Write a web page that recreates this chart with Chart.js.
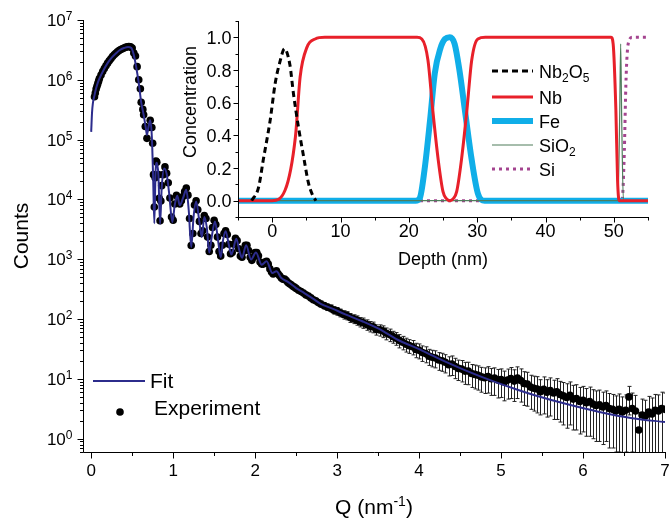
<!DOCTYPE html>
<html>
<head>
<meta charset="utf-8">
<script src="https://cdn.jsdelivr.net/npm/chart.js@4"></script>
<style>
  html, body { margin: 0; padding: 0; background: #fff; }
  #wrap { position: relative; width: 670px; height: 521px; }
  #wrap canvas { position: absolute; left: 0; top: 0; }
  #insetChart { pointer-events: none; }
</style>
</head>
<body>
<div id="wrap">
  <canvas id="mainChart" width="670" height="521"></canvas>
  <canvas id="insetChart" width="670" height="521"></canvas>
</div>
<script>
// ---- main plot: reflectivity fit (Q in nm^-1, counts) ----
const fitQ = [
  0, 0.01, 0.02, 0.04, 0.06, 0.08, 0.10, 0.15, 0.20, 0.25,
  0.30, 0.35, 0.40, 0.45, 0.49, 0.52, 0.55, 0.58, 0.61, 0.64,
  0.665, 0.68, 0.70, 0.72, 0.74, 0.755, 0.77, 0.785, 0.80, 0.82,
  0.84, 0.86, 0.89, 0.92, 0.95, 0.99, 1.02, 1.05, 1.08, 1.12,
  1.16, 1.19, 1.22, 1.25, 1.28, 1.32, 1.35, 1.38, 1.41, 1.44,
  1.47, 1.51, 1.55, 1.58, 1.61, 1.64, 1.68, 1.71, 1.73, 1.77,
  1.81, 1.84, 1.89, 1.95, 2.01, 2.08, 2.14, 2.21, 2.26, 2.32,
  2.40, 2.50, 2.60, 2.70, 2.80, 2.95, 3.10, 3.30, 3.50, 3.77,
  4.00, 4.15, 4.30, 4.55, 4.90, 5.20, 5.40, 5.80, 6.20, 6.60,
  7.00
];
const fitCounts = [
  1.35e5, 2.8e5, 4.0e5, 5.5e5, 7.2e5, 8.9e5, 1.05e6, 1.45e6, 1.9e6, 2.35e6,
  2.75e6, 3.15e6, 3.4e6, 3.55e6, 3.4e6, 2.6e6, 1.6e6, 8.9e5, 4.2e5, 2.6e5,
  1.6e5, 1.2e5, 1.66e5, 2.1e5, 1.1e5, 2.5e4, 4.0e3, 2.8e4, 4.1e4, 2.5e4,
  3.9e3, 1.55e4, 3.3e4, 2.7e4, 1.3e4, 4.2e3, 8.2e3, 1.15e4, 8.0e3, 1.05e4,
  1.45e4, 6.6e3, 1.6e3, 5.3e3, 9.2e3, 4.2e3, 2.35e3, 5.1e3, 3.4e3, 1.3e3,
  2.35e3, 4.3e3, 1.95e3, 1.08e3, 2.15e3, 2.95e3, 1.72e3, 1.2e3, 1.4e3, 2.2e3,
  1.36e3, 1.06e3, 1.72e3, 990, 1300, 810, 930, 590, 630, 485,
  420, 330, 272, 222, 180, 148, 120, 93, 70, 43,
  31.5, 25, 20, 14.2, 9.2, 6.6, 5.4, 3.8, 2.8, 2.2,
  1.9
];

// measured points where the error bars are hidden by the markers
const expQ = [
  0.04, 0.05, 0.06, 0.07, 0.08, 0.09, 0.10, 0.12, 0.14, 0.16,
  0.18, 0.20, 0.22, 0.24, 0.26, 0.28, 0.30, 0.32, 0.34, 0.36,
  0.38, 0.40, 0.42, 0.44, 0.46, 0.48, 0.50, 0.52, 0.54, 0.56,
  0.58, 0.60, 0.61, 0.63, 0.64, 0.66, 0.68, 0.70, 0.72, 0.74,
  0.75, 0.76, 0.77, 0.78, 0.79, 0.80, 0.82, 0.83, 0.84, 0.85,
  0.86, 0.88, 0.90, 0.92, 0.94, 0.96, 0.98, 1.00, 1.02, 1.04,
  1.06, 1.08, 1.10, 1.12, 1.14, 1.16, 1.18, 1.20, 1.22, 1.24,
  1.26, 1.28, 1.30, 1.32, 1.34, 1.36, 1.38, 1.40, 1.42, 1.44,
  1.46, 1.48, 1.50, 1.52, 1.54, 1.56, 1.58, 1.60, 1.62, 1.64,
  1.66, 1.68, 1.70, 1.72, 1.74, 1.76, 1.78, 1.80, 1.82, 1.84,
  1.86, 1.88, 1.90, 1.92, 1.94, 1.96, 1.98, 2.00, 2.02, 2.04,
  2.06, 2.08, 2.10, 2.12, 2.14, 2.16, 2.18, 2.20, 2.22, 2.24,
  2.26, 2.28, 2.30, 2.32, 2.34, 2.36, 2.38, 2.40, 2.42, 2.44,
  2.46, 2.48, 2.50, 2.53, 2.56, 2.59, 2.62, 2.65, 2.68, 2.71,
  2.74, 2.77
];
const expCounts = [
  5.2e5, 6.0e5, 7.0e5, 7.8e5, 8.6e5, 9.5e5, 1.05e6, 1.2e6, 1.38e6, 1.55e6,
  1.72e6, 1.9e6, 2.08e6, 2.25e6, 2.45e6, 2.62e6, 2.78e6, 2.95e6, 3.08e6, 3.2e6,
  3.3e6, 3.4e6, 3.5e6, 3.56e6, 3.6e6, 3.55e6, 3.4e6, 2.8e6, 2.5e6, 1.66e6,
  1.0e6, 7.1e5, 4.2e5, 3.2e5, 2.6e5, 1.66e5, 1.05e5, 1.6e5, 2.1e5, 1.6e5,
  8.7e4, 2.6e4, 7.5e3, 2.3e4, 4.4e4, 4.2e4, 2.6e4, 1.05e4, 4.4e3, 9.4e3,
  1.7e4, 2.6e4, 3.5e4, 2.75e4, 1.9e4, 1.06e4, 5.1e3, 4.5e3, 8.4e3, 1.17e4,
  1.07e4, 8.4e3, 9.5e3, 1.12e4, 1.35e4, 1.55e4, 1.18e4, 4.8e3, 1.7e3, 2.7e3,
  8.1e3, 9.5e3, 6.7e3, 4.3e3, 2.7e3, 3.0e3, 5.4e3, 4.8e3, 2.35e3, 1.35e3,
  1.72e3, 3.4e3, 4.5e3, 3.8e3, 2.35e3, 1.35e3, 1.13e3, 1.72e3, 2.7e3, 3.0e3,
  2.6e3, 1.78e3, 1.24e3, 1.3e3, 1.78e3, 2.25e3, 2.05e3, 1.5e3, 1.13e3, 1.08e3,
  1360, 1720, 1720, 1400, 1080, 960, 1080, 1300, 1300, 1140,
  900, 830, 830, 900, 925, 830, 690, 615, 570, 600,
  640, 570, 530, 485, 465, 465, 440, 410, 390, 375,
  355, 342, 326, 304, 290, 272, 254, 243, 226, 211,
  202, 189
];

// high-Q tail with visible error bars (absolute counts)
const tailQ = [
  2.80, 2.84, 2.88, 2.92, 2.96, 3.00, 3.04, 3.08, 3.12, 3.16,
  3.20, 3.24, 3.28, 3.32, 3.36, 3.40, 3.44, 3.48, 3.52, 3.56,
  3.60, 3.64, 3.68, 3.72, 3.76, 3.80, 3.84, 3.88, 3.92, 3.96,
  4.00, 4.04, 4.08, 4.12, 4.16, 4.20, 4.24, 4.28, 4.32, 4.36,
  4.40, 4.44, 4.48, 4.52, 4.56, 4.60, 4.64, 4.68, 4.72, 4.76,
  4.80, 4.84, 4.88, 4.92, 4.96, 5.00, 5.04, 5.08, 5.12, 5.16,
  5.20, 5.24, 5.28, 5.32, 5.36, 5.40, 5.44, 5.48, 5.52, 5.56,
  5.60, 5.64, 5.68, 5.72, 5.76, 5.80, 5.84, 5.88, 5.92, 5.96,
  6.00, 6.04, 6.08, 6.12, 6.16, 6.20, 6.24, 6.28, 6.32, 6.36,
  6.40, 6.44, 6.48, 6.52, 6.56, 6.60, 6.64, 6.68, 6.72, 6.76,
  6.80, 6.84, 6.88, 6.92, 6.96, 7.00
];
const tailCounts = [
  179, 168, 159, 152, 141, 136, 128, 119, 115, 106,
  101, 96, 90, 87, 81, 76, 74, 67, 66, 63,
  58, 55, 51, 48, 44, 41, 38, 36, 34.5, 31,
  30, 27.6, 26.5, 24, 23, 22.4, 20.7, 20.1, 19, 17.3,
  17.8, 16.1, 15, 14.6, 13.5, 13.5, 12.3, 11.9, 11.5, 10.8,
  10.5, 10.9, 10.1, 10.3, 9.6, 9.8, 8.9, 9.6, 10.1, 9.2,
  10.3, 9.4, 8.4, 8.2, 7.3, 7.0, 6.8, 6.1, 6.7, 6.0,
  6.4, 5.8, 6.1, 5.5, 5.2, 4.9, 5.3, 4.6, 4.7, 4.2,
  4.4, 4.0, 4.2, 3.8, 3.6, 3.7, 3.4, 3.6, 3.2, 3.1,
  2.9, 3.1, 2.8, 3.0, 5.0, 3.2, 2.9, 1.4, 2.5, 2.4,
  2.8, 2.6, 3.0, 2.9, 3.2, 3.1
];
const tailErr = [
  21, 20, 20, 20, 20, 20, 19, 19, 18, 18,
  17, 17, 16, 17, 16, 15, 15, 13, 14, 14,
  13, 13, 11.5, 11.5, 11, 10.4, 9.9, 9.3, 9.3, 8.4,
  8.4, 8.0, 7.9, 7.2, 7.1, 7.1, 6.8, 6.7, 6.4, 6.1,
  6.4, 6.0, 5.6, 5.7, 5.4, 5.5, 5.1, 5.1, 5.0, 4.8,
  4.8, 5.1, 4.8, 5.0, 4.8, 4.9, 4.6, 5.0, 5.4, 5.0,
  5.6, 5.3, 4.8, 4.7, 4.2, 4.1, 4.1, 3.6, 4.1, 3.7,
  4.0, 3.7, 4.0, 3.6, 3.5, 3.4, 3.6, 3.2, 3.3, 3.0,
  3.1, 2.9, 3.1, 2.8, 2.7, 2.8, 2.6, 2.7, 2.5, 2.4,
  2.3, 2.5, 2.2, 2.4, 2.5, 2.6, 2.4, 1.3, 2.1, 2.0,
  2.3, 2.2, 2.5, 2.5, 2.8, 2.7
];

const xTicks = [0, 1, 2, 3, 4, 5, 6, 7];
const yTickPowers = [0, 1, 2, 3, 4, 5, 6, 7];

// ---- inset: depth profile (nm, concentration) ----
const nbOxDepth = [-3.0, -2.0, -1.3, -0.3, 0.45, 1.2, 1.8, 2.6, 3.1, 3.85, 4.6, 5.3, 5.9, 6.4];
const nbOxConc  = [0.0, 0.08, 0.25, 0.49, 0.72, 0.86, 0.93, 0.83, 0.66, 0.45, 0.27, 0.11, 0.035, 0.0];
const nbDepth = [-5, 0, 1.9, 3.4, 4.1, 5.1, 6.3, 7.7, 21.2, 21.9, 22.8, 23.5, 24.3, 25.0, 25.5, 26.0,
                 26.5, 27.0, 27.7, 28.5, 29.2, 30.1, 31.2, 49.6, 49.9, 50.3, 50.55, 50.8, 55];
const nbConc  = [0, 0, 0.065, 0.39, 0.76, 0.94, 0.99, 1.0, 1.0, 0.99, 0.86, 0.555, 0.25, 0.055, 0.012, 0,
                 0.012, 0.055, 0.25, 0.555, 0.86, 0.99, 1.0, 1.0, 0.96, 0.555, 0.12, 0, 0];
const feDepth = [-5, 21.0, 21.6, 22.3, 23.1, 23.8, 24.6, 25.3, 26.0, 26.7, 27.4, 28.2, 29.2, 30.1, 31.1, 55];
const feConc  = [0, 0, 0.015, 0.19, 0.49, 0.78, 0.93, 0.99, 1.0, 0.96, 0.8, 0.555, 0.25, 0.045, 0, 0];
const sio2Depth = [-5, 50.6, 50.85, 51.0, 51.15, 51.4, 55];
const sio2Conc  = [0, 0, 0.5, 0.96, 0.5, 0, 0];
const siDepth = [-5, 51.2, 51.5, 51.8, 52.1, 52.7, 55];
const siConc  = [0, 0, 0.25, 0.76, 0.96, 1.0, 1.0];

const insetXTicks = [0, 10, 20, 30, 40, 50];
const insetYTicks = [0, 0.2, 0.4, 0.6, 0.8, 1.0];

const FONT = '"Liberation Sans", Arial, Helvetica, sans-serif';

function pairs(xs, ys) {
  return xs.map((v, i) => ({ x: v, y: ys[i] }));
}

// text with _{sub} and ^{sup} pieces
function drawRich(ctx, str, x, baseY, size, align, small) {
  small = small || Math.round(size * 0.68);
  const parts = [];
  const re = /([_^])\{([^}]*)\}|([^_^]+)/g;
  let m;
  while ((m = re.exec(str))) {
    if (m[3]) parts.push({ t: m[3], k: 'n' });
    else parts.push({ t: m[2], k: m[1] === '_' ? 'sub' : 'sup' });
  }
  let total = 0;
  parts.forEach(p => {
    ctx.font = (p.k === 'n' ? size : small) + 'px ' + FONT;
    p.w = ctx.measureText(p.t).width;
    total += p.w;
  });
  let cx = align === 'center' ? x - total / 2 : align === 'right' ? x - total : x;
  ctx.textAlign = 'left';
  ctx.textBaseline = 'alphabetic';
  parts.forEach(p => {
    ctx.font = (p.k === 'n' ? size : small) + 'px ' + FONT;
    const dy = p.k === 'sub' ? size * 0.24 : p.k === 'sup' ? -size * 0.36 : 0;
    ctx.fillText(p.t, cx, baseY + dy);
    cx += p.w;
  });
}

const mainDecor = {
  id: 'mainDecor',
  beforeDatasetsDraw(chart) {
    // error bars under the markers
    const { ctx, chartArea: a, scales: { x, y } } = chart;
    ctx.save();
    ctx.beginPath();
    ctx.rect(a.left, a.top, a.right - a.left, a.bottom - a.top);
    ctx.clip();
    ctx.strokeStyle = '#222';
    ctx.lineWidth = 1;
    ctx.beginPath();
    tailQ.forEach((q, i) => {
      const c = tailCounts[i], e = tailErr[i];
      const px = Math.round(x.getPixelForValue(q)) + 0.5;
      const top = y.getPixelForValue(c + e);
      const low = c - e;
      const bot = low > y.min ? y.getPixelForValue(low) : a.bottom + 10;
      ctx.moveTo(px, top); ctx.lineTo(px, bot);
      ctx.moveTo(px - 2, top); ctx.lineTo(px + 2, top);
      ctx.moveTo(px - 2, bot); ctx.lineTo(px + 2, bot);
    });
    ctx.stroke();
    ctx.restore();
  },
  afterDraw(chart) {
    const { ctx, chartArea: a, scales: { x, y } } = chart;
    ctx.save();
    ctx.strokeStyle = '#000';
    ctx.fillStyle = '#000';
    ctx.lineWidth = 1;
    const L = Math.round(a.left) + 0.5, B = Math.round(a.bottom) + 0.5;
    ctx.beginPath();
    ctx.moveTo(L, Math.round(a.top)); ctx.lineTo(L, B); ctx.lineTo(Math.round(a.right) + 1, B);
    for (let e = -1; e <= 7; e++) {
      for (let k = 1; k <= 9; k++) {
        const v = k * Math.pow(10, e);
        if (v < y.min || v > y.max * 1.0001) continue;
        const py = Math.round(y.getPixelForValue(v)) + 0.5;
        ctx.moveTo(L - (k === 1 ? 6 : 3.5), py); ctx.lineTo(L, py);
      }
    }
    for (let i = 0; i <= 14; i++) {
      const px = Math.round(x.getPixelForValue(i * 0.5)) + 0.5;
      ctx.moveTo(px, B); ctx.lineTo(px, B + (i % 2 === 0 ? 6 : 3.5));
    }
    ctx.stroke();

    yTickPowers.forEach(p => {
      const py = y.getPixelForValue(Math.pow(10, p));
      drawRich(ctx, '10^{' + p + '}', L - 11, py + 6, 17, 'right', 12);
    });
    xTicks.forEach(v => {
      drawRich(ctx, String(v), x.getPixelForValue(v), 476, 17, 'center');
    });
    drawRich(ctx, 'Q (nm^{-1})', (a.left + a.right) / 2, 514, 21, 'center', 14);
    ctx.save();
    ctx.translate(28, (a.top + a.bottom) / 2);
    ctx.rotate(-Math.PI / 2);
    drawRich(ctx, 'Counts', 0, 0, 21, 'center');
    ctx.restore();

    // legend
    const fit = chart.data.datasets[0], exp = chart.data.datasets[1];
    ctx.strokeStyle = fit.borderColor;
    ctx.lineWidth = fit.borderWidth;
    ctx.beginPath(); ctx.moveTo(93, 381); ctx.lineTo(145, 381); ctx.stroke();
    drawRich(ctx, fit.label, 150, 388, 21, 'left');
    ctx.fillStyle = exp.pointBackgroundColor;
    ctx.beginPath(); ctx.arc(120, 412, exp.pointRadius, 0, Math.PI * 2); ctx.fill();
    drawRich(ctx, exp.label, 154, 415, 21, 'left');
    ctx.restore();
  }
};

new Chart(document.getElementById('mainChart'), {
  type: 'scatter',
  data: {
    datasets: [
      {
        label: 'Fit',
        data: pairs(fitQ, fitCounts),
        showLine: true,
        borderColor: '#2c2c8c',
        borderWidth: 2,
        pointRadius: 0,
        cubicInterpolationMode: 'monotone'
      },
      {
        label: 'Experiment',
        data: pairs(expQ.concat(tailQ), expCounts.concat(tailCounts)),
        pointRadius: 3.8,
        pointBackgroundColor: '#000',
        pointBorderWidth: 0
      }
    ]
  },
  options: {
    responsive: false,
    animation: false,
    devicePixelRatio: 1,
    events: [],
    layout: { padding: { left: 83, right: 5, top: 20, bottom: 69 } },
    scales: {
      x: { type: 'linear', min: -0.1, max: 7, display: false },
      y: { type: 'logarithmic', min: 0.63, max: 1e7, display: false }
    },
    plugins: { legend: { display: false }, tooltip: { enabled: false } }
  },
  plugins: [mainDecor]
});

const insetDecor = {
  id: 'insetDecor',
  afterDraw(chart) {
    const { ctx, chartArea: a, scales: { x, y } } = chart;
    ctx.save();
    ctx.strokeStyle = '#000';
    ctx.fillStyle = '#000';
    ctx.lineWidth = 1;
    const L = Math.round(a.left) + 0.5, B = Math.round(a.bottom) + 0.5;
    ctx.beginPath();
    ctx.moveTo(L, Math.round(a.top)); ctx.lineTo(L, B); ctx.lineTo(Math.round(a.right) + 1, B);
    for (let i = -1; i <= 11; i++) {
      const py = Math.round(y.getPixelForValue(i / 10)) + 0.5;
      const major = i >= 0 && i % 2 === 0;
      ctx.moveTo(L - (major ? 5 : 3), py); ctx.lineTo(L, py);
    }
    for (let d = -5; d <= 55; d += 5) {
      const px = Math.round(x.getPixelForValue(d)) + 0.5;
      ctx.moveTo(px, B); ctx.lineTo(px, B + (d % 10 === 0 ? 5 : 3));
    }
    ctx.stroke();

    insetYTicks.forEach(v => {
      drawRich(ctx, v.toFixed(1), L - 7, y.getPixelForValue(v) + 6.5, 18, 'right');
    });
    insetXTicks.forEach(v => {
      drawRich(ctx, String(v), x.getPixelForValue(v), 237, 18, 'center');
    });
    drawRich(ctx, 'Depth (nm)', (a.left + a.right) / 2, 265, 18, 'center');
    ctx.save();
    ctx.translate(196, 102);
    ctx.rotate(-Math.PI / 2);
    drawRich(ctx, 'Concentration', 0, 0, 18, 'center');
    ctx.restore();

    // legend, in dataset order
    const rows = [71, 97, 121, 145, 169];
    chart.data.datasets.forEach((ds, i) => {
      const ly = rows[i];
      ctx.save();
      ctx.strokeStyle = ds.borderColor;
      ctx.lineWidth = ds.borderWidth;
      ctx.setLineDash(ds.borderDash || []);
      ctx.beginPath(); ctx.moveTo(492, ly); ctx.lineTo(533, ly); ctx.stroke();
      ctx.restore();
      drawRich(ctx, ds.label, 539, ly + 6.5, 18, 'left', 12);
    });
    ctx.restore();
  }
};

new Chart(document.getElementById('insetChart'), {
  type: 'scatter',
  data: {
    datasets: [
      { label: 'Nb_{2}O_{5}', data: pairs(nbOxDepth, nbOxConc), borderColor: '#000000',
        borderWidth: 3, borderDash: [6, 4], order: 0 },
      { label: 'Nb', data: pairs(nbDepth, nbConc), borderColor: '#e8202a',
        borderWidth: 3, order: 1 },
      { label: 'Fe', data: pairs(feDepth, feConc), borderColor: '#10aee8',
        borderWidth: 6, order: 3 },
      { label: 'SiO_{2}', data: pairs(sio2Depth, sio2Conc), borderColor: '#4e7d5b',
        borderWidth: 1.2, order: 2 },
      { label: 'Si', data: pairs(siDepth, siConc), borderColor: '#a4448f',
        borderWidth: 3, borderDash: [3, 4], order: 4 }
    ].map(ds => Object.assign(ds, {
      showLine: true, pointRadius: 0, cubicInterpolationMode: 'monotone', borderJoinStyle: 'round'
    }))
  },
  options: {
    responsive: false,
    animation: false,
    devicePixelRatio: 1,
    events: [],
    layout: { padding: { left: 238, right: 22, top: 21, bottom: 304 } },
    scales: {
      x: { type: 'linear', min: -5, max: 55, display: false },
      y: { type: 'linear', min: -0.1, max: 1.1, display: false }
    },
    plugins: { legend: { display: false }, tooltip: { enabled: false } }
  },
  plugins: [insetDecor]
});
</script>
</body>
</html>
